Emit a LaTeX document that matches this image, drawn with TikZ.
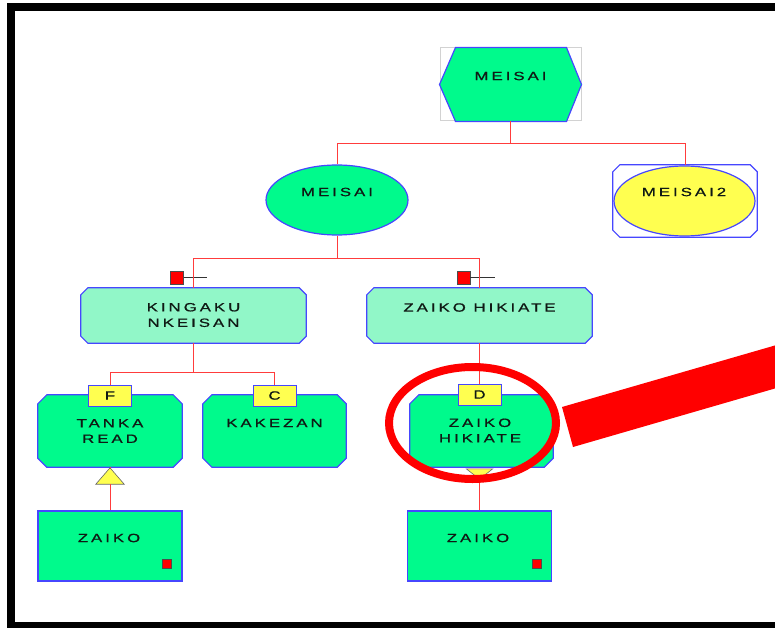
\documentclass[tikz,border=0pt]{standalone}
\usepackage{fontspec}
\newfontfamily\wfont[LetterSpace=25,FakeStretch=1.4,FakeBold=0.8]{Liberation Sans}
\usetikzlibrary{shapes.geometric}
\definecolor{gfill}{RGB}{0,250,140}
\definecolor{mint}{RGB}{145,247,200}
\definecolor{yel}{RGB}{255,255,80}
\definecolor{bord}{RGB}{70,70,255}
\definecolor{conn}{RGB}{255,60,60}
\definecolor{txt}{RGB}{15,25,20}
\newcommand\chpath[3]{%
  \filldraw[fill=#3, draw=bord, line width=1.2]
    ([xshift=#2]#1.north west) -- ([xshift=-#2]#1.north east) -- ([yshift=-#2]#1.north east)
    -- ([yshift=#2]#1.south east) -- ([xshift=-#2]#1.south east) -- ([xshift=#2]#1.south west)
    -- ([yshift=#2]#1.south west) -- ([yshift=-#2]#1.north west) -- cycle;}
\begin{document}
\begin{tikzpicture}[x=1pt,y=-1pt,
  lbl/.style={font=\wfont\fontsize{12}{15.5}\selectfont, text=txt, align=center, inner sep=0},
  hold/.style={rectangle, inner sep=0},
  rbox/.style={rectangle, draw=bord, line width=1.2, fill=gfill, inner sep=0, minimum width=144, minimum height=70},
  tag/.style={rectangle, draw=bord, line width=1, fill=yel, inner sep=0, minimum width=43, minimum height=21, font=\wfont\fontsize{12}{14}\selectfont, text=txt},
  redsq/.style={rectangle, fill=red, draw=black!70, line width=0.8, inner sep=0, minimum size=#1},
  conn/.style={draw=conn, line width=1}]
\useasboundingbox (0,0) rectangle (775,628);
\clip (0,0) rectangle (775,628);
\fill[white] (0,0) rectangle (775,628);

% top hexagon
\node[hold, draw=gray!35, line width=1, minimum width=141, minimum height=73] (hx) at (510.5,84.5) {};
\filldraw[fill=gfill, draw=bord, line width=1.2] (hx.west) -- ([xshift=16]hx.north west) -- ([xshift=-15]hx.north east) -- (hx.east) -- ([xshift=-15]hx.south east) -- ([xshift=16]hx.south west) -- cycle;
\node[lbl] (thx) at (510.5,76) {MEISAI};

% second level
\node[ellipse, draw=bord, line width=1.2, fill=gfill, minimum width=142, minimum height=70, inner sep=0] (m1) at (337,200) {};
\node[lbl] (tm1) at (337,192) {MEISAI};
\node[ellipse, draw=bord, line width=1.2, fill=yel, minimum width=141, minimum height=70, inner sep=0] (m2) at (684.5,201) {};
\node[hold, minimum width=144, minimum height=72] (m2b) at (685,201) {};
\draw[draw=bord, line width=1.2]
    ([xshift=7]m2b.north west) -- ([xshift=-7]m2b.north east) -- ([yshift=-7]m2b.north east)
    -- ([yshift=7]m2b.south east) -- ([xshift=-7]m2b.south east) -- ([xshift=7]m2b.south west)
    -- ([yshift=7]m2b.south west) -- ([yshift=-7]m2b.north west) -- cycle;
\node[lbl] (tm2) at (684,192) {MEISAI2};

% third level
\node[hold, minimum width=225, minimum height=55] (k1) at (193.5,315.5) {};
\chpath{k1}{7}{mint}
\node[lbl] (tk1) at (193.5,315) {KINGAKU\\NKEISAN};
\node[hold, minimum width=225, minimum height=55] (k2) at (479.5,315.5) {};
\chpath{k2}{7}{mint}
\node[lbl] (tk2) at (479.5,307.5) {ZAIKO HIKIATE};
\node[redsq=13] (sq1) at (177,277.5) {};
\draw[black!80, line width=0.9] (sq1.east) -- ++(23,0) coordinate (e1);
\node[redsq=13] (sq2) at (463.5,277.5) {};
\draw[black!80, line width=0.9] (sq2.east) -- ++(25,0) coordinate (e2);

% fourth level
\node[hold, minimum width=144, minimum height=72] (b1) at (110,431) {};
\chpath{b1}{9}{gfill}
\node[lbl] (tb1) at (110,431) {TANKA\\READ};
\node[hold, minimum width=143, minimum height=72] (b2) at (274.5,431) {};
\chpath{b2}{9}{gfill}
\node[lbl] (tb2) at (274.5,423) {KAKEZAN};
\node[hold, minimum width=143, minimum height=72] (b3) at (481.5,431) {};
\chpath{b3}{9}{gfill}
\node[lbl] (tb3) at (480,430.5) {ZAIKO\\HIKIATE};
\node[tag] (lf) at (110,395.5) {F};
\node[tag] (lc) at (274.5,395.5) {C};
\node[tag] (ld) at (479.5,394.5) {D};

% triangles
\node[hold, minimum width=28, minimum height=16] (tri1) at (110,476) {};
\filldraw[fill=yel, draw=black!60, line width=0.6] (tri1.south west) -- (tri1.south east) -- (tri1.north) -- cycle;
\node[hold, minimum width=26, minimum height=10] (tri2) at (479.5,474) {};
\filldraw[fill=yel, draw=black!60, line width=0.6] (tri2.north west) -- (tri2.north east) -- (tri2.south) -- cycle;

% bottom level
\node[rbox] (z1) at (110,546) {};
\node[lbl] (tz1) at (109,538) {ZAIKO};
\node[redsq=9] (s1) at (167,564) {};
\node[rbox] (z2) at (479.5,546) {};
\node[lbl] (tz2) at (478,538) {ZAIKO};
\node[redsq=9] (s2) at (537,564) {};

% connectors
\draw[conn] (hx.south) -- ++(0,22) coordinate (j0) -| (m1.north);
\draw[conn] (j0) -| (m2b.north);
\draw[conn] (m1.south) -- ++(0,23) coordinate (j1) -| (k1.north);
\draw[conn] (j1) -| (k2.north);
\draw[conn] (k1.south) -- ++(0,29) coordinate (j2) -| (lf.north);
\draw[conn] (j2) -| (lc.north);
\draw[conn] (k2.south) -- (ld.north);
\draw[conn] (b1.south) -- (tri1.north);
\draw[conn] (tri1.south) -- (z1.north);
\draw[conn] (tri2.south) -- (z2.north);

% highlight
\draw[red, line width=8] (472.5,423) ellipse [x radius=83.5, y radius=56];
\fill[red] (562,407) -- (780,344) -- (780,387) -- (573,447) -- cycle;

% frame
\draw[black, line width=8] (11,7) rectangle (800,626);
\end{tikzpicture}
\end{document}
